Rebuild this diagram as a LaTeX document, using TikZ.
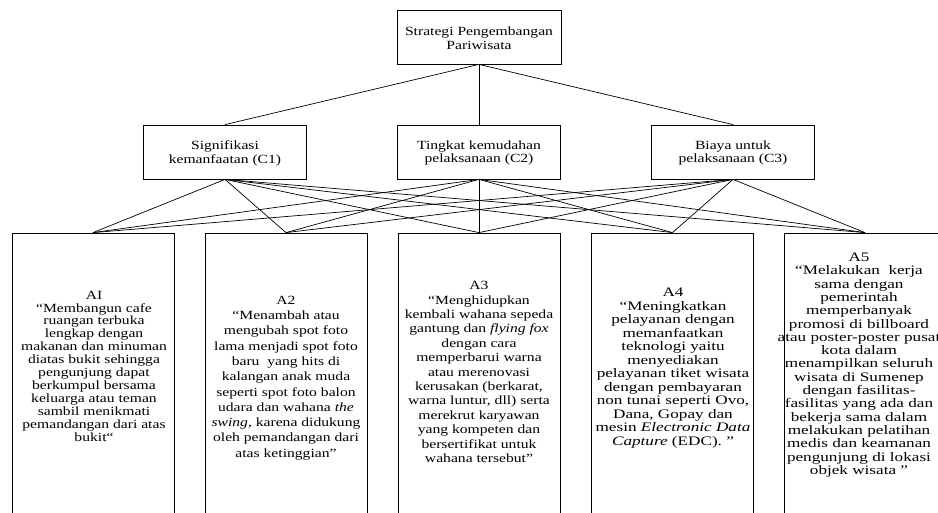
\documentclass[tikz,border=0pt]{standalone}
\usepackage{fontspec}
\setmainfont{Liberation Serif}
\newfontfamily\fa[FakeStretch=1.25]{Liberation Serif}
\newfontfamily\fb[FakeStretch=1.32]{Liberation Serif}
\begin{document}
\begin{tikzpicture}[x=1pt,y=-1pt,
  box/.style={draw,line width=0.8pt,inner sep=0pt,minimum height=54pt},
  abox/.style={draw,line width=0.8pt,inner sep=0pt,minimum width=162pt,minimum height=287pt},
  txt/.style={align=center,inner sep=0pt,text=black},
  conn/.style={line width=0.7pt}]
\useasboundingbox (0,0) rectangle (938,513);
\clip (0,0) rectangle (938,513);
% top
\node[box,minimum width=164pt] (top) at (479,37) {};
\node[txt,font=\fa\fontsize{12.5}{13.3}\selectfont] (toptxt) at (479,38.3) {Strategi Pengembangan\\Pariwisata};
% criteria
\node[box,minimum width=163pt] (c1) at (225,152) {};
\node[box,minimum width=163pt] (c2) at (479,152) {};
\node[box,minimum width=163pt] (c3) at (733,152) {};
\node[txt,font=\fa\fontsize{12.5}{13.3}\selectfont] (c1t) at (225,153.3) {Signifikasi\\kemanfaatan (C1)};
\node[txt,font=\fa\fontsize{12.5}{13.3}\selectfont] (c2t) at (479,153.3) {Tingkat kemudahan\\pelaksanaan (C2)};
\node[txt,font=\fa\fontsize{12.5}{13.3}\selectfont] (c3t) at (733,153.3) {Biaya untuk\\pelaksanaan (C3)};
% alternatives
\node[abox] (a1) at (93,376.5) {};
\node[abox] (a2) at (286,376.5) {};
\node[abox] (a3) at (479,376.5) {};
\node[abox] (a4) at (672.5,376.5) {};
\node[abox] (a5) at (865,376.5) {};
% connectors
\foreach \c in {c1,c2,c3} \draw[conn] (top.south) -- (\c.north);
\foreach \c in {c1,c2,c3} \foreach \a in {a1,a2,a3,a4,a5} \draw[conn] (\c.south) -- (\a.north);
% texts
\node[txt,font=\fa\fontsize{12.5}{12.9}\selectfont] (a1t) at (94,366) {AI\\“Membangun cafe\\ruangan terbuka\\lengkap dengan\\makanan dan minuman\\diatas bukit sehingga\\pengunjung dapat\\berkumpul bersama\\keluarga atau teman\\sambil menikmati\\pemandangan dari atas\\bukit“};
\node[txt,font=\fa\fontsize{12.5}{15.3}\selectfont] (a2t) at (286,378) {A2\\“Menambah atau\\mengubah spot foto\\lama menjadi spot foto\\baru~~yang hits di\\kalangan anak muda\\seperti spot foto balon\\udara dan wahana \textit{the}\\\textit{swing}, karena didukung\\oleh pemandangan dari\\atas ketinggian”};
\node[txt,font=\fa\fontsize{12.5}{14.4}\selectfont] (a3t) at (479,372) {A3\\“Menghidupkan\\kembali wahana sepeda\\gantung dan \textit{flying fox}\\dengan cara\\memperbarui warna\\atau merenovasi\\kerusakan (berkarat,\\warna luntur, dll) serta\\merekrut karyawan\\yang kompeten dan\\bersertifikat untuk\\wahana tersebut”};
\node[txt,font=\fb\fontsize{13}{13.5}\selectfont] (a4t) at (673,368) {A4\\“Meningkatkan\\pelayanan dengan\\memanfaatkan\\teknologi yaitu\\menyediakan\\pelayanan tiket wisata\\dengan pembayaran\\non tunai seperti Ovo,\\Dana, Gopay dan\\mesin \textit{Electronic Data}\\\textit{Capture} (EDC). ”};
\node[txt,font=\fb\fontsize{13}{13.3}\selectfont] (a5t) at (859,365) {A5\\“Melakukan~~kerja\\sama dengan\\pemerintah\\memperbanyak\\promosi di billboard\\atau poster-poster pusat\\kota dalam\\menampilkan seluruh\\wisata di Sumenep\\dengan fasilitas-\\fasilitas yang ada dan\\bekerja sama dalam\\melakukan pelatihan\\medis dan keamanan\\pengunjung di lokasi\\objek wisata ”};
\end{tikzpicture}
\end{document}
